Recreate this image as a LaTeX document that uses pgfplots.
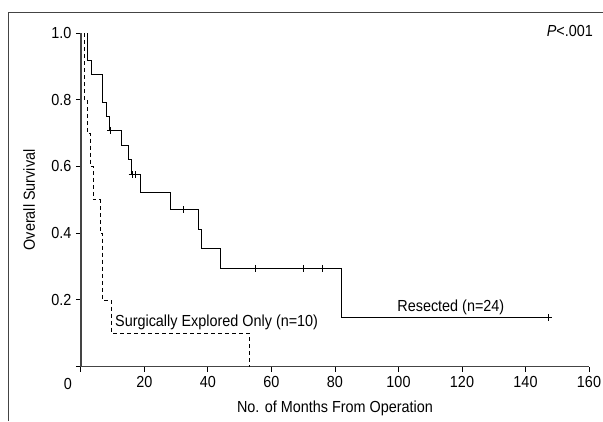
\documentclass[border=0pt]{standalone}
\usepackage{pgfplots}
\pgfplotsset{compat=1.18}
\usepackage{fontspec}
\setmainfont{Liberation Sans}[FakeStretch=0.9]

\definecolor{axisgray}{HTML}{444444}

\begin{document}
\fontsize{16}{19}\selectfont
\begin{tikzpicture}[x=1pt,y=1pt]
  % page = 603 x 421 px, 1pt = 1px, origin at top left
  \path[use as bounding box] (0,0) rectangle (603,-421);
  \draw[axisgray, line width=1pt] (8,-421) -- (8,-12) -- (603,-12);

  \begin{axis}[
      at={(81pt,-366.7pt)}, anchor=south west,
      scale only axis, width=508pt, height=333.7pt,
      xmin=0, xmax=160, ymin=0, ymax=1,
      axis lines=left, axis line style={-, line width=1.3pt, axisgray},
      clip=false,
      xtick={0,20,...,160},
      xticklabels={{},20,40,60,80,100,120,140,160},
      ytick={0,0.2,0.4,0.6,0.8,1.0},
      yticklabels={{},0.2,0.4,0.6,0.8,1.0},
      tick align=outside, major tick length=5pt,
      tick style={line width=1pt, black},
      /pgf/number format/assume math mode=true,
      ticklabel style={font=\fontsize{16}{19}\selectfont},
      xticklabel style={yshift=1pt},
      yticklabel style={xshift=1pt},
      xlabel={No. of Months From Operation},
      ylabel={Overall Survival},
      label style={font=\fontsize{16}{19}\selectfont},
      xlabel style={at={(axis description cs:0.5,0)}, anchor=base, yshift=-46pt},
      ylabel style={at={(axis description cs:0,0.5)}, anchor=base, yshift=46pt},
    ]
    % Resected (n=24)
    \addplot[black, line width=0.9pt] coordinates {
      (2.0,1.0) (2.0,0.9167) (3.15,0.9167) (3.15,0.875) (6.83,0.875) (6.83,0.7917)
      (7.87,0.7917) (7.87,0.75) (8.9,0.75) (8.9,0.7083) (12.8,0.7083) (12.8,0.6641)
      (14.9,0.6641) (14.9,0.6198) (16.0,0.6198) (16.0,0.5755) (18.8,0.5755) (18.8,0.5232)
      (28.1,0.5232) (28.1,0.4709) (36.9,0.4709) (36.9,0.4120) (38.0,0.4120) (38.0,0.3531)
      (44.0,0.3531) (44.0,0.2943) (82.1,0.2943) (82.1,0.1471) (147.2,0.1471)
    };
    % censored
    \addplot[only marks, mark=+, mark size=3.5pt, black, line width=0.8pt] coordinates {
      (9.3,0.7083) (16.1,0.5755) (17.0,0.5755) (32.2,0.4709)
      (55.0,0.2943) (70.2,0.2943) (76.1,0.2943) (147.2,0.1471)
    };
    % Surgically explored only (n=10)
    \addplot[black, line width=0.9pt, dash pattern=on 4pt off 3pt] coordinates {
      (1.05,1.0) (1.05,0.8) (1.9,0.8) (1.9,0.7) (3.05,0.7) (3.05,0.6) (3.9,0.6)
      (3.9,0.5) (6.0,0.5) (6.0,0.4) (6.8,0.4) (6.8,0.2) (9.7,0.2) (9.7,0.1)
      (52.9,0.1) (52.9,0.0)
    };

    \node[anchor=base west, inner sep=0pt] at (axis cs:99.6,0.165) {Resected (n=24)};
    \node[anchor=base west, inner sep=0pt] at (axis cs:10.7,0.12) {Surgically Explored Only (n=10)};
    \node[anchor=base east, inner sep=0pt] at (axis cs:161.3,0.991) {\textit{P}<.001};
    \node[inner sep=0pt] at ([xshift=-13pt, yshift=-16.8pt]axis cs:0,0) {0};
  \end{axis}
\end{tikzpicture}
\end{document}
